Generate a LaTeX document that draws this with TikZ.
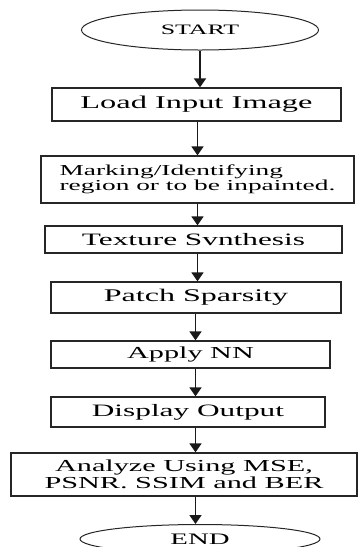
\documentclass[tikz,border=0pt]{standalone}
\usepackage{fontspec}
\setmainfont{Liberation Serif}[FakeStretch=1.8]
\usetikzlibrary{shapes.geometric,arrows.meta}
\begin{document}
\begin{tikzpicture}[x=1pt,y=-1pt]
			\tikzset{
				stepbox/.style={draw=black!85, line width=1.3pt, rectangle, inner sep=0pt},
				termnode/.style={draw=black!85, line width=1pt, ellipse, inner sep=0pt},
				flow/.style={draw=black!90, line width=1.8pt, -{Triangle[width=12pt,length=9pt]}}
			}
			\useasboundingbox (0,0) rectangle (357,547);
			\coordinate (spine) at (195.5,0);
			\node [termnode, minimum width=237pt, minimum height=40pt, font=\fontsize{14.4}{16}\selectfont] (start) at (200,30) {START};
			\node [stepbox, minimum width=289pt, minimum height=33pt, font=\fontsize{18}{20}\selectfont] (load) at (196.5,104.5) {Load Input Image};
			\node [stepbox, minimum width=313pt, minimum height=47pt, align=left, font=\fontsize{15.2}{15}\selectfont] (mark) at (197.5,179.5) {Marking/Identifying\\region or to be inpainted.};
			\node [stepbox, minimum width=297pt, minimum height=27pt, font=\fontsize{17.4}{19}\selectfont] (texture) at (193.5,239.5) {Texture Svnthesis};
			\node [stepbox, minimum width=290pt, minimum height=31pt, font=\fontsize{17.8}{19}\selectfont] (patch) at (196,297.5) {Patch Sparsity};
			\node [stepbox, minimum width=279pt, minimum height=27pt, font=\fontsize{16.8}{19}\selectfont] (nn) at (190.5,354.5) {Apply NN};
			\node [stepbox, minimum width=274pt, minimum height=30pt, font=\fontsize{17.4}{19}\selectfont] (display) at (188,412) {Display Output};
			\node [stepbox, minimum width=346pt, minimum height=43pt, align=center, font=\fontsize{16.8}{17.3}\selectfont] (analyze) at (184,474.5) {Analyze Using MSE,\\PSNR. SSIM and BER};
			\node [termnode, minimum width=240pt, minimum height=29pt, font=\fontsize{16}{18}\selectfont] (end) at (200,539) {END};
			\draw [flow] (start.south) -- (load.north -| start.south);
			\draw [flow] (load.south -| mark.north) -- (mark.north);
			\draw [flow] (mark.south) -- (texture.north -| mark.south);
			\draw [flow] (texture.south -| mark.south) -- (patch.north -| mark.south);
			\draw [flow] (patch.south -| spine) -- (nn.north -| spine);
			\draw [flow] (nn.south -| spine) -- (display.north -| spine);
			\draw [flow] (display.south -| spine) -- (analyze.north -| spine);
			\draw [flow] (analyze.south -| spine) -- (end.north -| spine);
\end{tikzpicture}
\end{document}
